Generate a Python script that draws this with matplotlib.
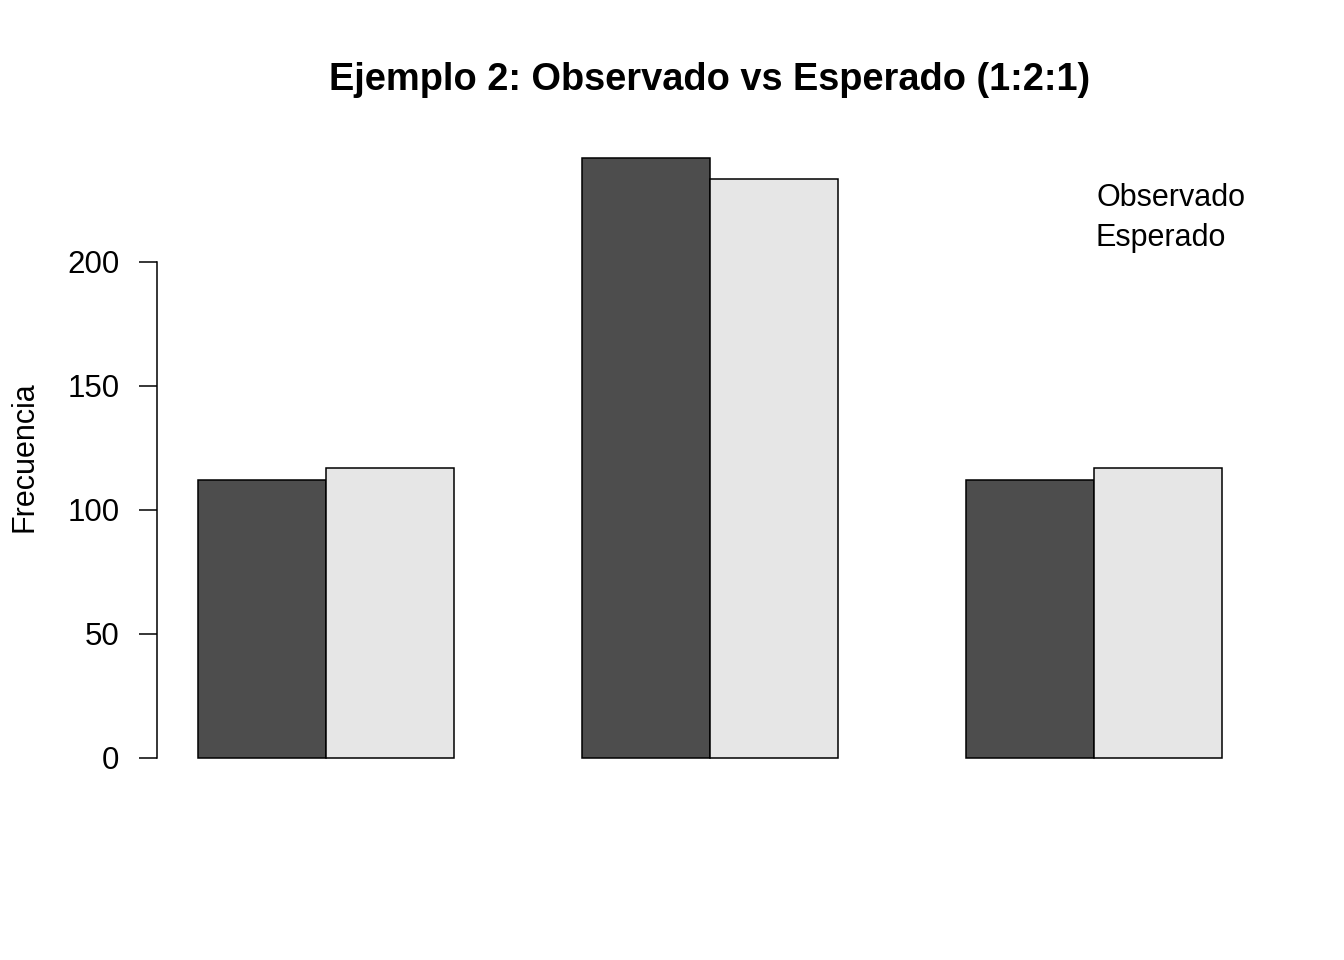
import matplotlib
matplotlib.use("Agg")
import matplotlib.pyplot as plt
import numpy as np

plt.rcParams['font.family'] = ['Liberation Sans', 'DejaVu Sans']

# data
groups = ["AA", "Aa", "aa"]
observado = [112, 242, 112]
esperado = [116.75, 233.5, 116.75]
series_labels = ["Observado", "Esperado"]
colors = ["#4D4D4D", "#E6E6E6"]
yticks = [0, 50, 100, 150, 200]

fig = plt.figure(figsize=(13.44, 9.6), dpi=100)
ax = fig.add_axes([157 / 1344, 1 - 782 / 960, (1263 - 157) / 1344, (782 - 131) / 960])

# R barplot(beside=TRUE) layout: width 1, space c(0, 1)
base = 1 + 3 * np.arange(len(groups))
ax.bar(base + 0.5, observado, width=1, color=colors[0], edgecolor="black", linewidth=1.1)
ax.bar(base + 1.5, esperado, width=1, color=colors[1], edgecolor="black", linewidth=1.1)

ax.set_xlim(0.68, 9.32)
ax.set_ylim(-0.04 * 243, 1.04 * 243)

for s in ["top", "right", "bottom"]:
    ax.spines[s].set_visible(False)
ax.spines["left"].set_bounds(0, 200)
ax.spines["left"].set_linewidth(1.1)
ax.set_xticks([])
ax.set_yticks(yticks)
ax.tick_params(axis="y", length=13, width=1.1, labelsize=22.5, pad=14)

ax.set_ylabel("Frecuencia", fontsize=22)
ax.yaxis.set_label_coords(-0.106, 0.5)
fig.text(0.528, 1 - 80 / 960, "Ejemplo 2: Observado vs Esperado (1:2:1)",
         ha="center", va="center", fontsize=27.4, fontweight="bold")

for i, lab in enumerate(series_labels):
    fig.text(1096 / 1344, 1 - (198 + 40 * i) / 960, lab, ha="left", va="center", fontsize=22)

fig.savefig("out.png", dpi=100)
